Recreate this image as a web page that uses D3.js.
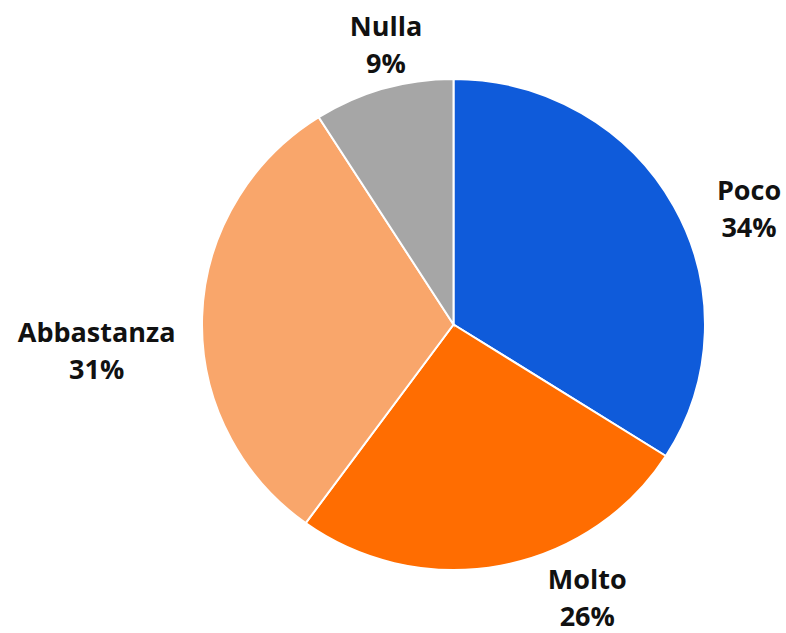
<!DOCTYPE html>
<html><head><meta charset="utf-8">
<script src="https://cdn.jsdelivr.net/npm/d3@7"></script>
<style>html,body{margin:0;padding:0;background:#fff;}</style>
</head><body>
<svg id="chart" width="786" height="633"></svg>
<script>
const categories = ["Poco", "Molto", "Abbastanza", "Nulla"];
const values = [34, 26, 31, 9];
const percentLabels = ["34%", "26%", "31%", "9%"];
const colors = ["#0F5BDA", "#FF6D01", "#F9A66B", "#A6A6A6"];
// label nudges (layout only) relative to arc centroid at label radius
const labelNudge = [[30, 29], [77, -25], [-54, 35], [17, 10.5]];

const svg = d3.select("#chart");
const cx = 453.5, cy = 324.5, rx = 251.5, ry = 245.5;
const g = svg.append("g").attr("transform", `translate(${cx},${cy}) scale(1,${ry / rx})`);

const data = categories.map((c, i) => ({cat: c, value: values[i], label: percentLabels[i], color: colors[i], nudge: labelNudge[i]}));
const pie = d3.pie().value(d => d.value).sort(null);
const arcs = pie(data);
const arc = d3.arc().innerRadius(0).outerRadius(rx);
const labelR = 303;
const labelArc = d3.arc().innerRadius(labelR).outerRadius(labelR);

g.selectAll("path").data(arcs).join("path")
  .attr("d", arc)
  .attr("fill", d => d.data.color)
  .attr("stroke", "#fff")
  .attr("stroke-width", 2);

const lg = svg.append("g").attr("transform", `translate(${cx},326)`);
const labels = lg.selectAll("text.lbl").data(arcs).join("text")
  .attr("class", "lbl")
  .attr("text-anchor", "middle")
  .style("font-family", "'Open Sans', sans-serif")
  .style("font-weight", "bold")
  .style("font-size", "27px")
  .attr("fill", "#111");
labels.each(function(d) {
  const [x, y] = labelArc.centroid(d);
  const px = x + d.data.nudge[0], py = y + d.data.nudge[1];
  const t = d3.select(this);
  t.append("tspan").attr("x", px).attr("y", py - 9.5).text(d.data.cat);
  t.append("tspan").attr("x", px).attr("y", py + 27.5).text(d.data.label);
});
</script>
</body></html>
